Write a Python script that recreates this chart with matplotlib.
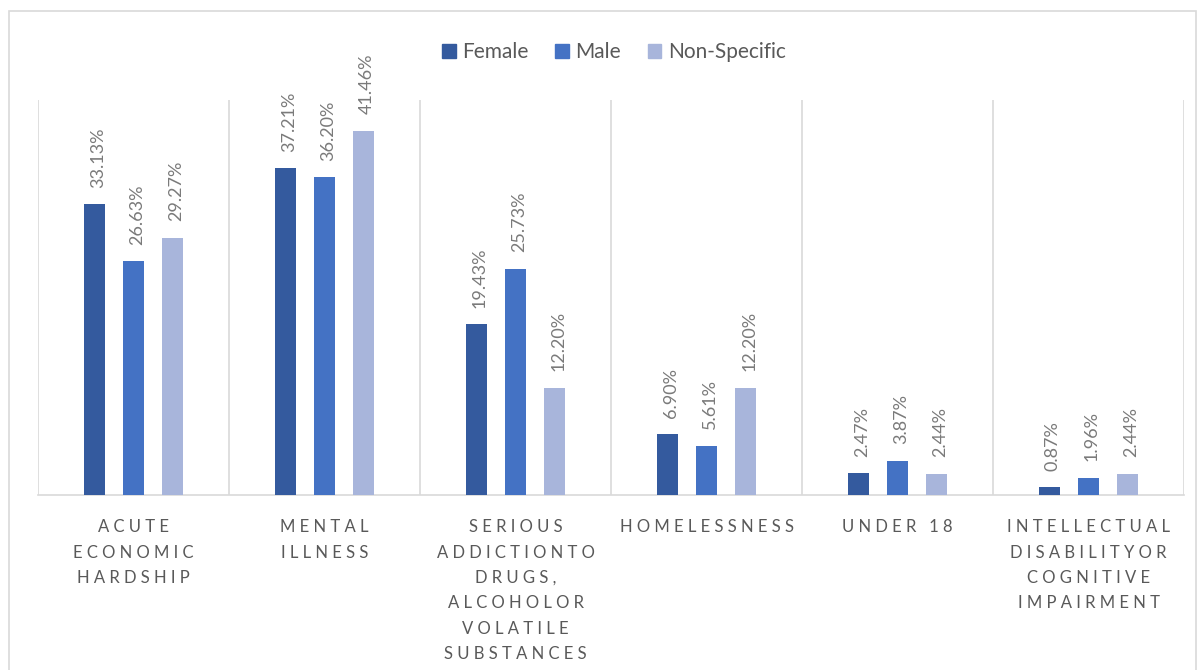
import numpy as np
import matplotlib
matplotlib.use("Agg")
import matplotlib.pyplot as plt
from matplotlib.patches import Rectangle

plt.rcParams['font.family'] = ['Lato', 'DejaVu Sans']

categories = ["ACUTE\nECONOMIC\nHARDSHIP", "MENTAL\nILLNESS",
              "SERIOUS\nADDICTIONTO\nDRUGS,\nALCOHOLOR\nVOLATILE\nSUBSTANCES",
              "HOMELESSNESS", "UNDER 18",
              "INTELLECTUAL\nDISABILITYOR\nCOGNITIVE\nIMPAIRMENT"]
series = ["Female", "Male", "Non-Specific"]
female = [33.13, 37.21, 19.43, 6.90, 2.47, 0.87]
male = [26.63, 36.20, 25.73, 5.61, 3.87, 1.96]
non_specific = [29.27, 41.46, 12.20, 12.20, 2.44, 2.44]

colors = ["#345A9E", "#4472C4", "#A8B5DB"]
txt = "#595959"
lbl = "#7A7A7A"
grid = "#D9D9D9"

def spaced(s):
    return "\n".join(" ".join(line) for line in s.split("\n"))

fig = plt.figure(figsize=(11.99, 6.7), dpi=100)
# outer chart border
fig.patches.append(Rectangle((9 / 1199, -0.05), (1196 - 9) / 1199, 1.05 - 11 / 670,
                             transform=fig.transFigure, fill=False,
                             edgecolor=grid, linewidth=1.2))

ax = fig.add_axes([38 / 1199, 1 - 495 / 670, (1184 - 38) / 1199, (495 - 100) / 670])
x = np.arange(len(categories))
width = 0.11
offsets = [-0.205, 0, 0.205]
for vals, off, col, name in zip([female, male, non_specific], offsets, colors, series):
    bars = ax.bar(x + off, vals, width, color=col, label=name, zorder=3)
    for b, v in zip(bars, vals):
        ax.annotate(f"{v:.2f}%", (b.get_x() + b.get_width() / 2, v),
                    xytext=(2.5, 12), textcoords="offset points",
                    rotation=90, ha="center", va="bottom",
                    color=lbl, fontsize=13)

ax.set_xlim(-0.5, len(categories) - 0.5)
ax.set_ylim(0, 45)
ax.set_yticks([])
ax.set_xticks([])
for s in ["top", "left", "right"]:
    ax.spines[s].set_visible(False)
ax.spines["bottom"].set_color(grid)
ax.spines["bottom"].set_linewidth(1.2)
for b in np.arange(-0.5, len(categories), 1.0):
    ax.axvline(b, color=grid, linewidth=1.2, zorder=1)

for i, c in enumerate(categories):
    ax.annotate(spaced(c), (i, 0), xytext=(0, -17.5), textcoords="offset points",
                ha="center", va="top", color=txt, fontsize=12,
                linespacing=1.72, multialignment="center")

handles = [Rectangle((0, 0), 1, 1, color=c) for c in colors]
fig.legend(handles, series, loc="center", bbox_to_anchor=(0.512, 1 - 52 / 670),
           ncol=3, frameon=False, fontsize=15, labelcolor=txt,
           handlelength=0.65, handleheight=0.65, handletextpad=0.3,
           columnspacing=1.3)

fig.savefig("out.png", dpi=100, facecolor="white")
